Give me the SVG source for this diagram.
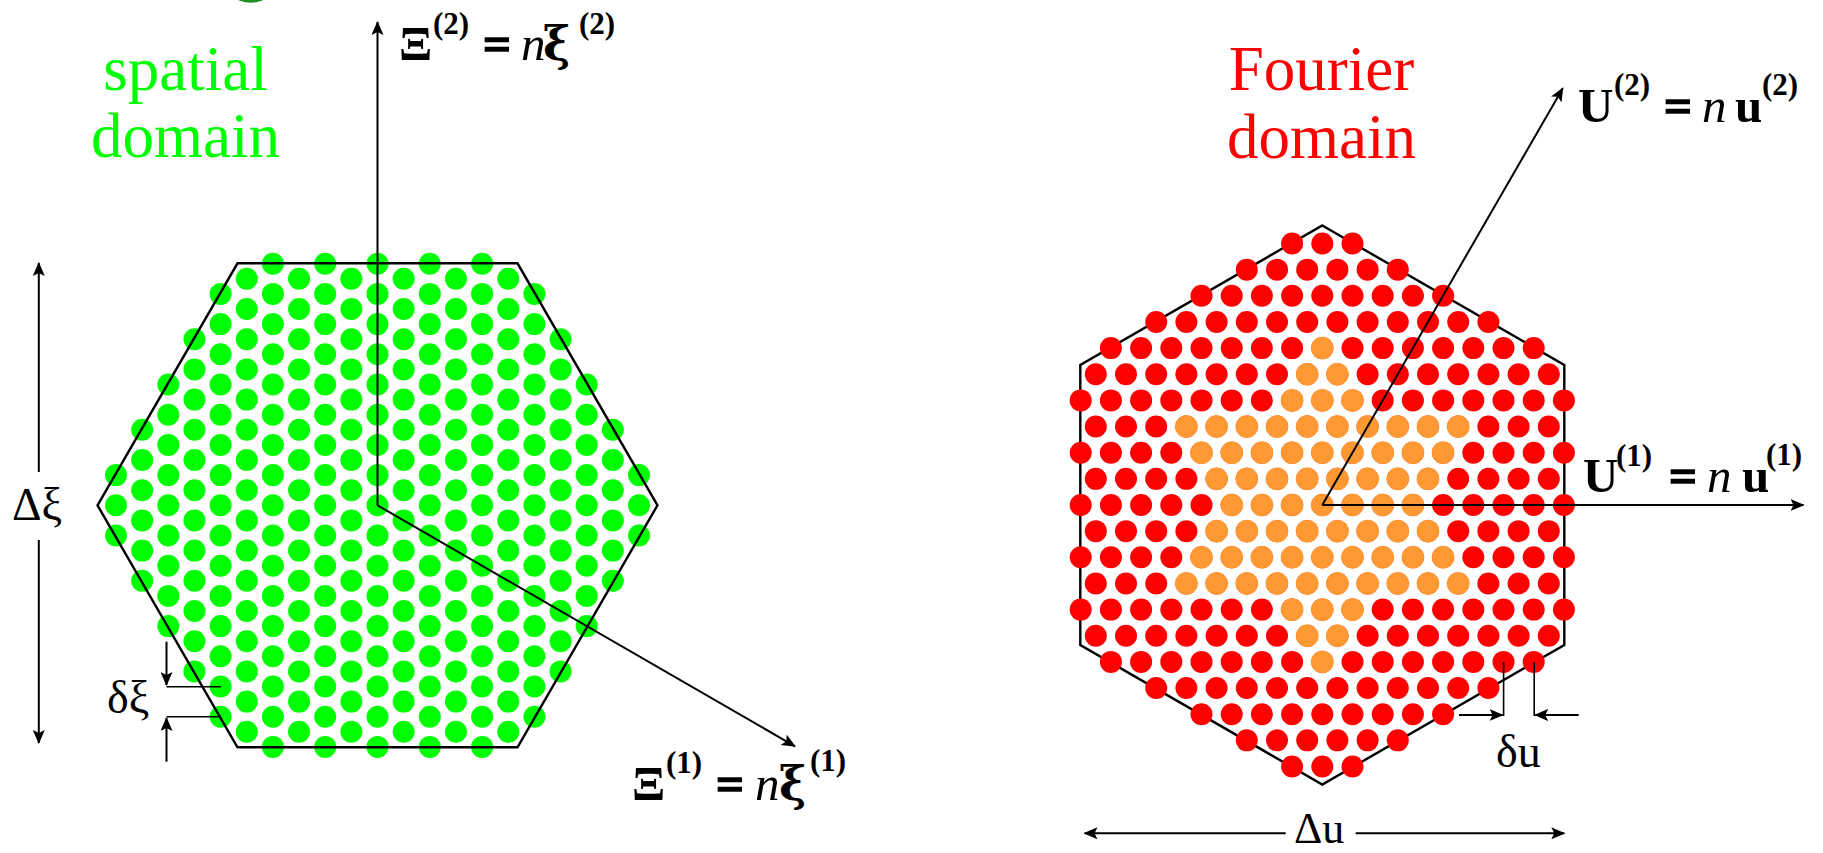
<svg xmlns="http://www.w3.org/2000/svg" width="1823" height="853" viewBox="0 0 1823 853">
<style>
.t{font-family:"Liberation Serif","Times New Roman",serif;fill:#000}
.title{font-size:63px;text-anchor:middle}
.lbl{font-size:49px;font-weight:bold}
.sup{font-size:31px;font-weight:bold}
.i{font-style:italic;font-weight:normal}
.gx{font-size:49px;font-weight:bold}
.g{font-family:"DejaVu Serif","Liberation Serif",serif;font-size:46px;font-weight:bold}
.eq{stroke:#000;stroke-width:1.6}
.dim{font-size:46px}
.ax{stroke:#000;stroke-width:2;fill:none}
.tk{stroke:#000;stroke-width:1.6;fill:none}
.hex{stroke:#000;stroke-width:2.4;fill:none;stroke-linejoin:miter}
</style>
<defs>
<marker id="ah" viewBox="0 0 14 12" refX="13" refY="6" markerWidth="14" markerHeight="12" markerUnits="userSpaceOnUse" orient="auto"><path d="M0,0 L14,6 L0,12 L3,6 Z" fill="#000"/></marker>
<g id="r1"><circle r="11"/></g>
<g id="r2"><circle cx="-15.1" r="11"/><circle cx="15.1" r="11"/></g>
<g id="r3"><use href="#r1"/><circle cx="-30.2" r="11"/><circle cx="30.2" r="11"/></g>
<g id="r6"><use href="#r2"/><circle cx="-45.3" r="11"/><circle cx="45.3" r="11"/><circle cx="-75.5" r="11"/><circle cx="75.5" r="11"/></g>
<g id="r7"><use href="#r3"/><circle cx="-60.4" r="11"/><circle cx="60.4" r="11"/><circle cx="-90.6" r="11"/><circle cx="90.6" r="11"/></g>
<g id="r8"><use href="#r6"/><circle cx="-105.7" r="11"/><circle cx="105.7" r="11"/></g>
<g id="r9"><use href="#r7"/><circle cx="-120.8" r="11"/><circle cx="120.8" r="11"/></g>
<g id="r10"><use href="#r8"/><circle cx="-135.9" r="11"/><circle cx="135.9" r="11"/></g>
<g id="r12"><use href="#r10"/><circle cx="-166.1" r="11"/><circle cx="166.1" r="11"/></g>
<g id="r15"><use href="#r9"/><circle cx="-151" r="11"/><circle cx="151" r="11"/><circle cx="-181.2" r="11"/><circle cx="181.2" r="11"/><circle cx="-211.4" r="11"/><circle cx="211.4" r="11"/></g>
<g id="r16"><use href="#r12"/><circle cx="-196.3" r="11"/><circle cx="196.3" r="11"/><circle cx="-226.5" r="11"/><circle cx="226.5" r="11"/></g>
<g id="r17"><use href="#r15"/><circle cx="-241.6" r="11"/><circle cx="241.6" r="11"/></g>
<g id="lat">
<use href="#r3" y="-261.5"/>
<use href="#r6" y="-235.35"/>
<use href="#r9" y="-209.2"/>
<use href="#r12" y="-183.05"/>
<use href="#r15" y="-156.9"/>
<use href="#r16" y="-130.75"/>
<use href="#r17" y="-104.6"/>
<use href="#r16" y="-78.45"/>
<use href="#r17" y="-52.3"/>
<use href="#r16" y="-26.15"/>
<use href="#r17"/>
<use href="#r16" y="26.15"/>
<use href="#r17" y="52.3"/>
<use href="#r16" y="78.45"/>
<use href="#r17" y="104.6"/>
<use href="#r16" y="130.75"/>
<use href="#r15" y="156.9"/>
<use href="#r12" y="183.05"/>
<use href="#r9" y="209.2"/>
<use href="#r6" y="235.35"/>
<use href="#r3" y="261.5"/>
</g>
</defs>
<rect width="1823" height="853" fill="#fff"/>
<circle id="top-mark" cx="250.8" cy="-27.3" r="30" fill="#1f8f1f"/>

<g id="spatial-domain">
<text class="t title" style="fill:#00ff00"><tspan x="185.5" y="90">spatial</tspan><tspan x="185.5" y="157">domain</tspan></text>
<use id="spatial-dots" href="#lat" fill="#00ff00" transform="translate(377.5,505.3) rotate(90)"/>
<polygon id="spatial-hexagon" class="hex" points="97.5,505.3 237.5,263.3 517.5,263.3 657.5,505.3 517.5,747.3 237.5,747.3"/>
</g>

<g id="fourier-domain">
<text class="t title" style="fill:#ff0000"><tspan x="1321.5" y="90">Fourier</tspan><tspan x="1321.5" y="158">domain</tspan></text>
<polygon id="fourier-hexagon" class="hex" points="1322.3,225.5 1564.3,365 1564.3,645 1322.3,784.5 1080.3,645 1080.3,365"/>
<use id="fourier-dots" href="#lat" fill="#ff0000" transform="translate(1322.3,505)"/>
<g id="fourier-core" fill="#ff9933" stroke="#ff9933" stroke-width="0.8" transform="translate(1322.3,505)">
<use href="#r1" y="-156.9"/>
<use href="#r2" y="-130.75"/>
<use href="#r3" y="-104.6"/>
<use href="#r10" y="-78.45"/>
<use href="#r9" y="-52.3"/>
<use href="#r8" y="-26.15"/>
<use href="#r7"/>
<use href="#r8" y="26.15"/>
<use href="#r9" y="52.3"/>
<use href="#r10" y="78.45"/>
<use href="#r3" y="104.6"/>
<use href="#r2" y="130.75"/>
<use href="#r1" y="156.9"/>
</g>
</g>

<g id="connectors">
<line class="ax" x1="377.5" y1="505.3" x2="377.5" y2="22" marker-end="url(#ah)"/>
<line class="ax" x1="377.5" y1="505.3" x2="795" y2="746.3" marker-end="url(#ah)"/>
<line class="ax" x1="1322.3" y1="505" x2="1803.5" y2="505" marker-end="url(#ah)"/>
<line class="ax" x1="1322.3" y1="505" x2="1562.8" y2="88.2" marker-end="url(#ah)"/>
<line class="ax" x1="38.8" y1="472" x2="38.8" y2="263" marker-end="url(#ah)"/>
<line class="ax" x1="38.8" y1="540" x2="38.8" y2="743" marker-end="url(#ah)"/>
<line class="ax" x1="1285.7" y1="833.3" x2="1084.5" y2="833.3" marker-end="url(#ah)"/>
<line class="ax" x1="1355.7" y1="833.3" x2="1564.3" y2="833.3" marker-end="url(#ah)"/>
<line class="ax" x1="166.5" y1="641.7" x2="166.5" y2="685" marker-end="url(#ah)"/>
<line class="ax" x1="166.5" y1="761.7" x2="166.5" y2="718" marker-end="url(#ah)"/>
<line class="tk" x1="166.5" y1="686.7" x2="221" y2="686.7"/>
<line class="tk" x1="166.5" y1="716.7" x2="221" y2="716.7"/>
<line class="tk" x1="1503.6" y1="662" x2="1503.6" y2="716"/>
<line class="tk" x1="1534.2" y1="662" x2="1534.2" y2="716"/>
<line class="ax" x1="1459" y1="715" x2="1502.6" y2="715" marker-end="url(#ah)"/>
<line class="ax" x1="1578.6" y1="715" x2="1535.2" y2="715" marker-end="url(#ah)"/>
</g>

<g id="labels">
<text class="t lbl" y="60"><tspan class="gx" x="399">Ξ</tspan><tspan class="sup" x="433" y="34">(2)</tspan><tspan class="eq" x="483" y="60">=</tspan><tspan class="i" x="521">n</tspan><tspan class="g" x="543">ξ</tspan><tspan class="sup" x="579" y="34">(2)</tspan></text>
<text class="t lbl" y="800"><tspan class="gx" x="632">Ξ</tspan><tspan class="sup" x="666" y="773">(1)</tspan><tspan class="eq" x="716" y="800">=</tspan><tspan class="i" x="755">n</tspan><tspan class="g" x="779">ξ</tspan><tspan class="sup" x="810" y="771">(1)</tspan></text>
<text class="t lbl" y="122"><tspan x="1578">U</tspan><tspan class="sup" x="1614" y="95">(2)</tspan><tspan class="eq" x="1664" y="122">=</tspan><tspan class="i" x="1702">n</tspan><tspan x="1735">u</tspan><tspan class="sup" x="1762" y="95">(2)</tspan></text>
<text class="t lbl" y="492"><tspan x="1583">U</tspan><tspan class="sup" x="1616" y="466">(1)</tspan><tspan class="eq" x="1669" y="492">=</tspan><tspan class="i" x="1707">n</tspan><tspan x="1742">u</tspan><tspan class="sup" x="1766" y="465">(1)</tspan></text>
<text class="t dim" x="37" y="520" text-anchor="middle">Δξ</text>
<text class="t dim" x="107" y="713">δξ</text>
<text class="t dim" x="1496" y="767">δu</text>
<text class="t dim" x="1294" y="843" style="font-size:44px">Δu</text>
</g>
</svg>
